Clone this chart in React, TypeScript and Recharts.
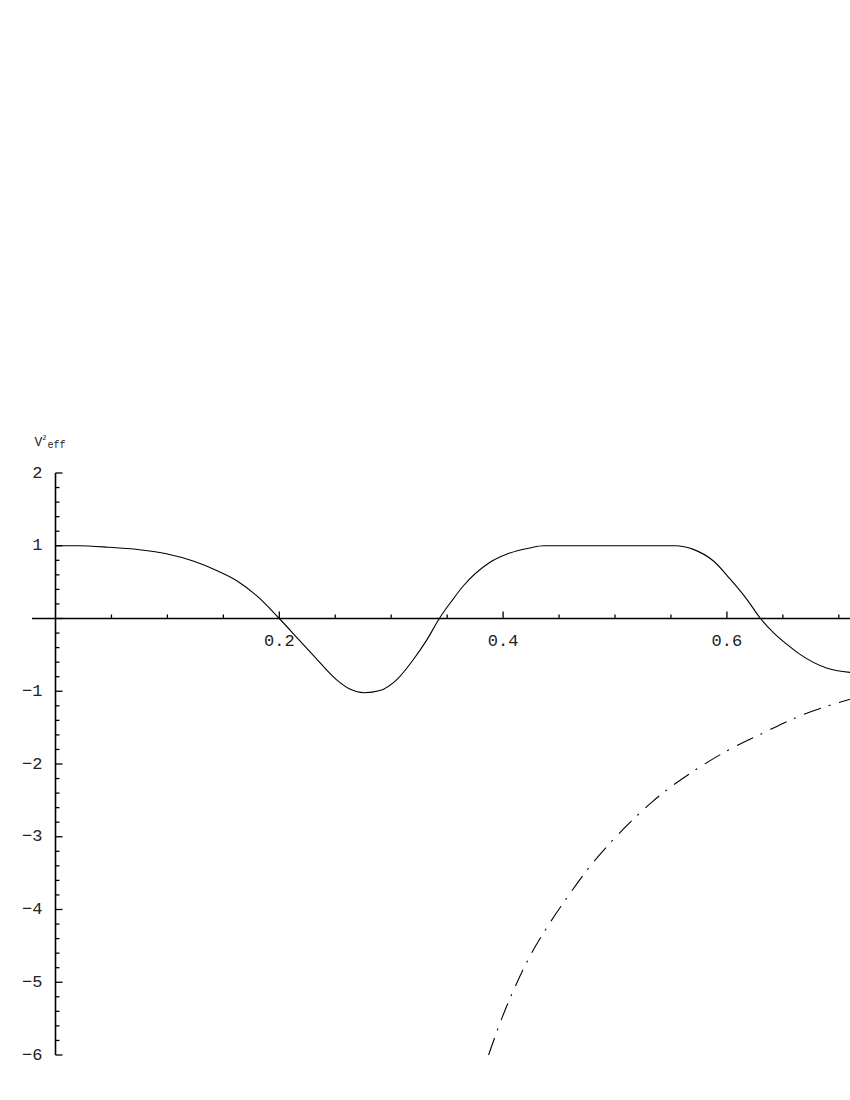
import React from "react";
import { LineChart, Line, XAxis, YAxis, ReferenceLine } from "recharts";

// Solid curve (V²eff)
const solidX = [0, 0.02, 0.047, 0.075, 0.099, 0.123, 0.144, 0.162, 0.18, 0.2, 0.218, 0.233, 0.251, 0.263, 0.276, 0.29, 0.305, 0.32, 0.332, 0.343, 0.355, 0.364, 0.388, 0.406, 0.424, 0.436, 0.5, 0.554, 0.57, 0.588, 0.603, 0.618, 0.63, 0.642, 0.654, 0.665, 0.689, 0.71];
const solidY = [1.0, 1.0, 0.98, 0.945, 0.89, 0.79, 0.66, 0.52, 0.31, 0.0, -0.3, -0.55, -0.84, -0.97, -1.02, -0.99, -0.84, -0.56, -0.29, 0.0, 0.26, 0.44, 0.77, 0.9, 0.97, 1.0, 1.0, 1.0, 0.95, 0.79, 0.54, 0.26, 0.0, -0.2, -0.36, -0.49, -0.68, -0.74];

// Dash-dot curve
const dashX = [0.387, 0.399, 0.409, 0.424, 0.437, 0.457, 0.478, 0.496, 0.513, 0.534, 0.57, 0.6, 0.633, 0.665, 0.71];
const dashY = [-6.0, -5.49, -5.12, -4.64, -4.3, -3.84, -3.4, -3.08, -2.81, -2.51, -2.1, -1.82, -1.57, -1.34, -1.11];

// Axis ticks
const xTickValues = [0.05, 0.1, 0.15, 0.2, 0.25, 0.3, 0.35, 0.4, 0.45, 0.5, 0.55, 0.6, 0.65, 0.7];
const xTickLabels = ["0.2", "0.4", "0.6"];
const yMajorTicks = [-6, -5, -4, -3, -2, -1, 0, 1, 2];
const yTickLabels = ["−6", "−5", "−4", "−3", "−2", "−1", "", "1", "2"];

const solidData = solidX.map((x, i) => ({ x, y: solidY[i] }));
const dashData = dashX.map((x, i) => ({ x, y: dashY[i] }));
const xTickData = xTickValues.map((x) => ({ x, y: 0 }));

// y-axis tick positions: majors plus 4 minor subdivisions
const yAxisData: { x: number; y: number; major: boolean; label: string }[] = [];
yMajorTicks.forEach((v, i) => {
  yAxisData.push({ x: 0, y: v, major: true, label: yTickLabels[i] });
  if (i < yMajorTicks.length - 1) {
    for (let k = 1; k < 5; k++) {
      yAxisData.push({ x: 0, y: Math.round((v + k * 0.2) * 10) / 10, major: false, label: "" });
    }
  }
});

const MONO = "'Liberation Mono', 'DejaVu Sans Mono', monospace";

const YTickDot = (props: any) => {
  const { cx, cy, payload, index } = props;
  const len = payload.major ? 7 : 4;
  return (
    <g key={`yt-${index}`}>
      <line x1={cx} y1={cy} x2={cx + len} y2={cy} stroke="#000" strokeWidth={1.3} />
      {payload.label !== "" && (
        <text x={cx - 13} y={cy} textAnchor="end" dominantBaseline="central" fontFamily={MONO} fontSize={17} fill="#222">
          {payload.label}
        </text>
      )}
      {payload.y === 2 && (
        <text x={cx - 21} y={cy - 27} fontFamily={MONO} fontSize={13} fill="#222">
          V
          <tspan dy={-6} fontSize={7}>2</tspan>
          <tspan dx={1} dy={8} fontSize={10}>eff</tspan>
        </text>
      )}
    </g>
  );
};

const XTickDot = (props: any) => {
  const { cx, cy, payload, index } = props;
  const v = Math.round(payload.x * 100) / 100;
  const labelIdx = [0.2, 0.4, 0.6].indexOf(v);
  const major = labelIdx >= 0;
  const len = major ? 7 : 4;
  return (
    <g key={`xt-${index}`}>
      <line x1={cx} y1={cy} x2={cx} y2={cy - len} stroke="#000" strokeWidth={1.3} />
      {major && (
        <text x={cx} y={cy + 23} textAnchor="middle" dominantBaseline="central" fontFamily={MONO} fontSize={17} fill="#222">
          {xTickLabels[labelIdx]}
        </text>
      )}
    </g>
  );
};

export default function App() {
  return (
    <div style={{ position: "absolute", left: 0, top: 0, width: 850, height: 1100, background: "#fff" }}>
      <LineChart width={850} height={1100} margin={{ top: 473, right: 0, bottom: 45, left: 32 }}>
        <XAxis type="number" dataKey="x" domain={[-0.021, 0.71]} hide />
        <YAxis type="number" dataKey="y" domain={[-6, 2]} hide />
        <ReferenceLine y={0} stroke="#000" strokeWidth={1.6} />
        <Line
          data={yAxisData}
          dataKey="y"
          stroke="#000"
          strokeWidth={1.6}
          dot={YTickDot}
          activeDot={false}
          isAnimationActive={false}
        />
        <Line
          data={xTickData}
          dataKey="y"
          stroke="none"
          dot={XTickDot}
          activeDot={false}
          isAnimationActive={false}
        />
        <Line
          data={solidData}
          dataKey="y"
          type="monotone"
          stroke="#000"
          strokeWidth={1.1}
          dot={false}
          activeDot={false}
          isAnimationActive={false}
        />
        <Line
          data={dashData}
          dataKey="y"
          type="monotone"
          stroke="#000"
          strokeWidth={1.1}
          strokeDasharray="18 8 2 9"
          dot={false}
          activeDot={false}
          isAnimationActive={false}
        />
      </LineChart>
    </div>
  );
}
